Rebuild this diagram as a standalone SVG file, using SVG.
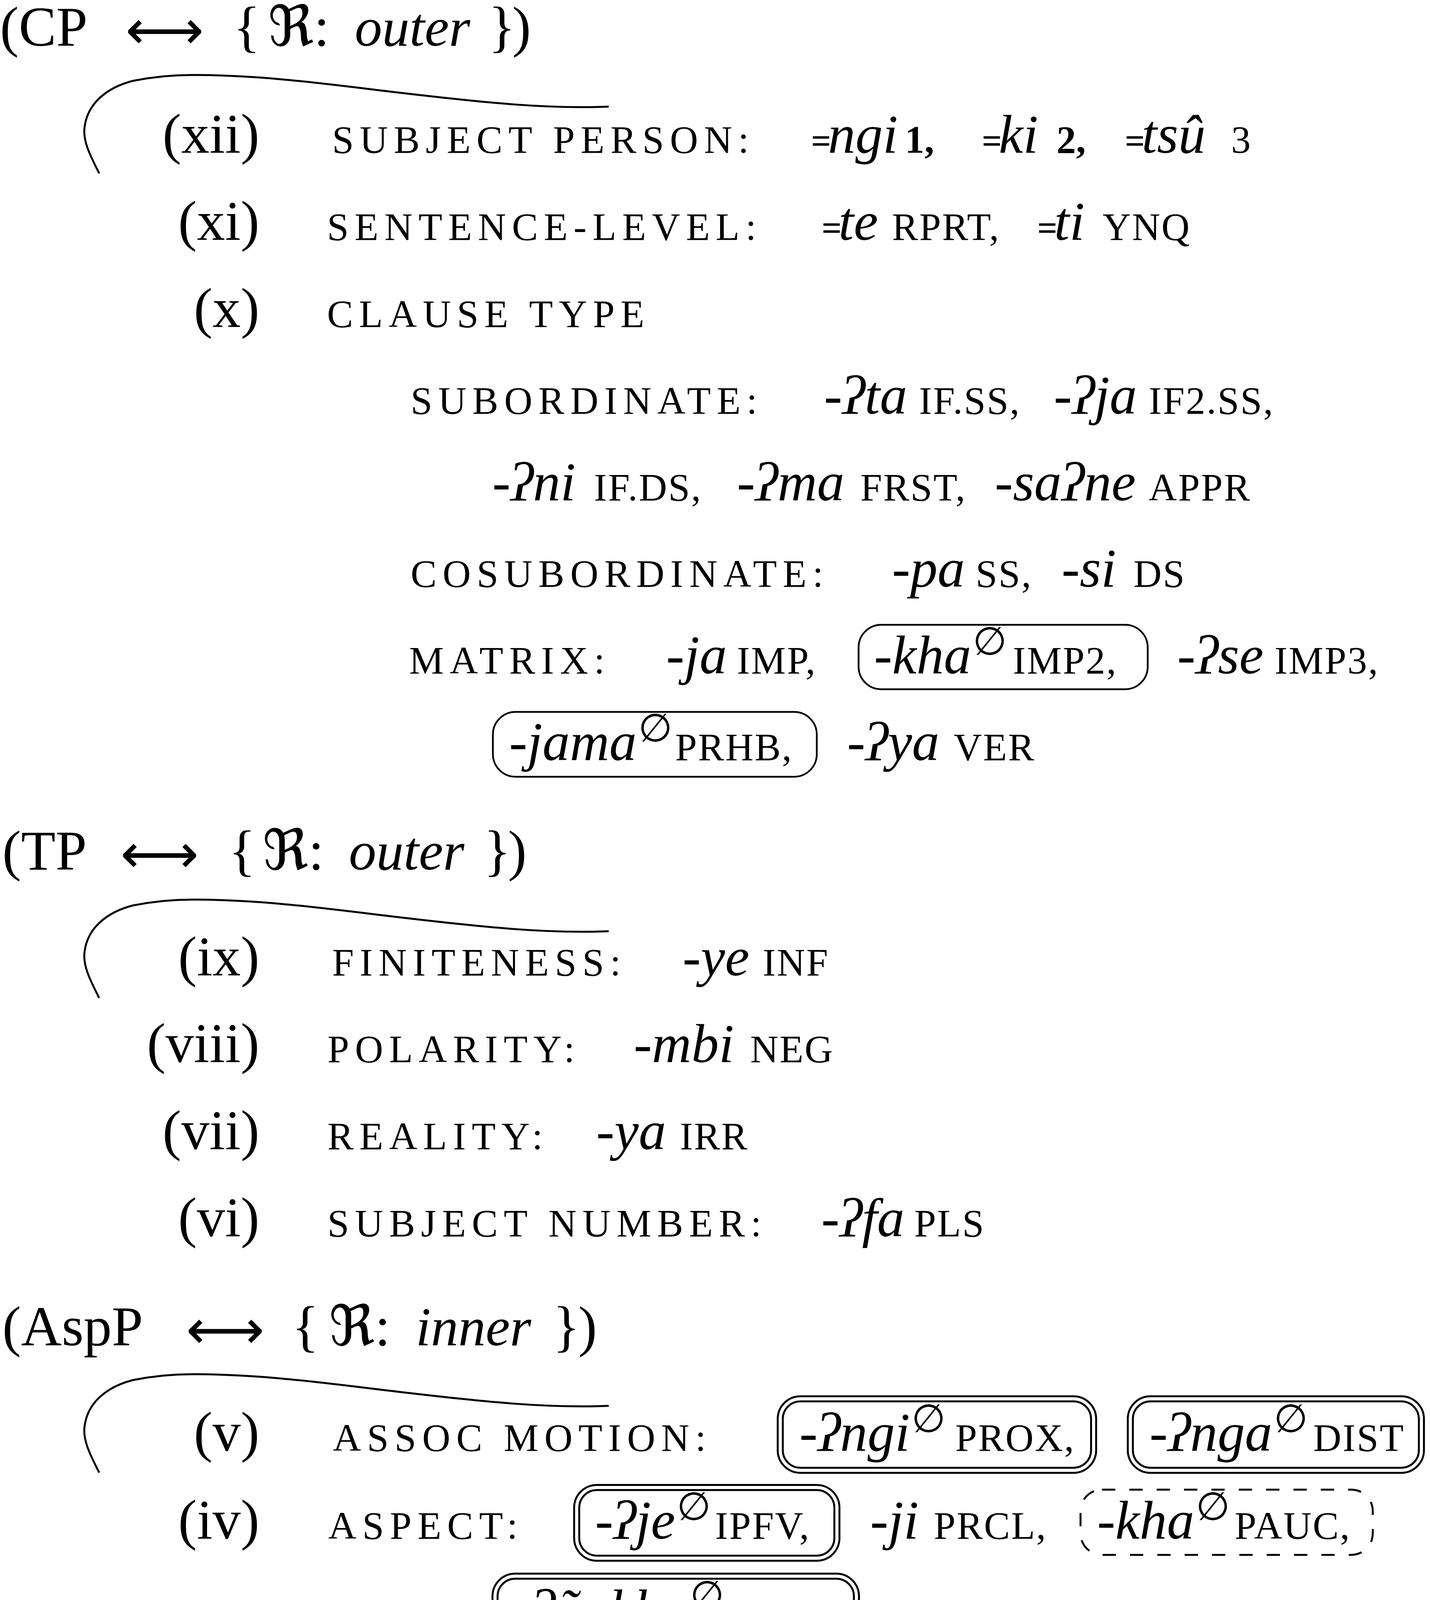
<svg xmlns="http://www.w3.org/2000/svg" xmlns:xlink="http://www.w3.org/1999/xlink" width="3660" height="5435" viewBox="0 0 3660 5435">
<style>
text{font-family:'Liberation Serif','DejaVu Serif',serif;font-size:144px;fill:#000}
.it{font-style:italic;font-size:140px}
.lb{font-size:100px;letter-spacing:15px}
.gl{font-size:100px;letter-spacing:3px;font-style:normal}
.dg{font-size:100px;font-weight:bold;font-style:normal}
.eq{font-size:90px;font-weight:bold;font-style:normal}
.sup{font-family:'DejaVu Sans','Noto Sans',sans-serif;font-size:100px;font-style:normal}
.sp{font-size:8px;font-style:normal}
.arr{font-family:'DejaVu Sans','Noto Sans',sans-serif;font-size:140px}
.frak{font-family:'DejaVu Serif','DejaVu Sans','Noto Sans',serif}
.num{text-anchor:end}
.brace{fill:none;stroke:#000;stroke-width:5;stroke-linecap:round}
.box{fill:none;stroke:#000;stroke-width:4.5}
.dbl{fill:none;stroke:#000;stroke-width:5}
.dash{fill:none;stroke:#000;stroke-width:5;stroke-dasharray:34 36}
</style>
<defs>
<path id="brace" d="M253,325 C230,280 210,240 217,205 C225,150 270,108 340,90 C390,80 440,75 490,75 C680,75 850,100 1020,120 C1250,147 1400,162 1556,156"/>
</defs>
<rect width="3660" height="5435" fill="#fff"/>

<g id="brackets">
<use xlink:href="#brace" class="brace" transform="translate(0,117)"/>
<use xlink:href="#brace" class="brace" transform="translate(0,2228)"/>
<use xlink:href="#brace" class="brace" transform="translate(0,3443)"/>
<use xlink:href="#brace" class="brace" transform="translate(0,4892)"/>
</g>

<g id="cp-header">
<text y="117"><tspan x="0">(CP </tspan><tspan x="321" dy="8" class="arr">⟷ </tspan><tspan x="597" dy="-8">{</tspan><tspan x="686" class="frak">ℜ</tspan><tspan>: </tspan><tspan x="908" class="it">outer </tspan><tspan x="1250">}</tspan><tspan x="1311">)</tspan></text>
</g>

<g id="row-xii">
<text class="num" x="664" y="391">(xii)</text>
<text y="391"><tspan x="850" class="lb">SUBJECT PERSON: </tspan><tspan x="2076" class="eq">=</tspan><tspan dx="-8" class="it">ngi</tspan><tspan class="sp"> </tspan><tspan x="2316" class="dg">1, </tspan><tspan x="2513" class="eq">=</tspan><tspan dx="-8" class="it">ki</tspan><tspan class="sp"> </tspan><tspan x="2704" class="dg">2, </tspan><tspan x="2879" class="eq">=</tspan><tspan dx="-8" class="it">tsû</tspan><tspan class="sp"> </tspan><tspan x="3151" class="gl">3</tspan></text>
</g>

<g id="row-xi">
<text class="num" x="664" y="614">(xi)</text>
<text y="614"><tspan x="837" class="lb">SENTENCE-LEVEL: </tspan><tspan x="2103" class="eq">=</tspan><tspan dx="-8" class="it">te</tspan><tspan class="sp"> </tspan><tspan x="2283" class="gl">RPRT, </tspan><tspan x="2655" class="eq">=</tspan><tspan dx="-8" class="it">ti</tspan><tspan class="sp"> </tspan><tspan x="2822" class="gl">YNQ</tspan></text>
</g>

<g id="row-x">
<text class="num" x="664" y="837">(x)</text>
<text y="837"><tspan x="837" class="lb">CLAUSE TYPE</tspan></text>
</g>

<g id="subordinate">
<text y="1059"><tspan x="1051" class="lb">SUBORDINATE: </tspan><tspan x="2109" class="it">-ʔta</tspan><tspan class="sp"> </tspan><tspan x="2352" class="gl">IF.SS, </tspan><tspan x="2697" class="it">-ʔja</tspan><tspan class="sp"> </tspan><tspan x="2940" class="gl">IF2.SS,</tspan></text>
<text y="1281"><tspan x="1260" class="it">-ʔni</tspan><tspan class="sp"> </tspan><tspan x="1520" class="gl">IF.DS, </tspan><tspan x="1886" class="it">-ʔma</tspan><tspan class="sp"> </tspan><tspan x="2202" class="gl">FRST, </tspan><tspan x="2546" class="it">-saʔne</tspan><tspan class="sp"> </tspan><tspan x="2940" class="gl">APPR</tspan></text>
</g>

<g id="cosubordinate">
<text y="1502"><tspan x="1051" class="lb">COSUBORDINATE: </tspan><tspan x="2283" class="it">-pa</tspan><tspan class="sp"> </tspan><tspan x="2497" class="gl">SS, </tspan><tspan x="2717" class="it">-si</tspan><tspan class="sp"> </tspan><tspan x="2901" class="gl">DS</tspan></text>
</g>

<g id="matrix">
<rect class="box" x="2197.5" y="1599.5" width="740" height="165" rx="58"/>
<rect class="box" x="1261.5" y="1822.5" width="829" height="166" rx="58"/>
<text y="1724"><tspan x="1047" class="lb">MATRIX: </tspan><tspan x="1705" class="it">-ja</tspan><tspan class="sp"> </tspan><tspan x="1886" class="gl">IMP, </tspan><tspan x="2237" class="it">-kha</tspan><tspan dx="4" y="1676" class="sup">∅</tspan><tspan class="sp"> </tspan><tspan x="2592" y="1724" class="gl">IMP2, </tspan><tspan x="3013" class="it">-ʔse</tspan><tspan class="sp"> </tspan><tspan x="3262" class="gl">IMP3,</tspan></text>
<text y="1946"><tspan x="1303" class="it">-jama</tspan><tspan dx="4" y="1898" class="sup">∅</tspan><tspan class="sp"> </tspan><tspan x="1728" y="1946" class="gl">PRHB, </tspan><tspan x="2168" class="it">-ʔya</tspan><tspan class="sp"> </tspan><tspan x="2441" class="gl">VER</tspan></text>
</g>

<g id="tp-header">
<text y="2226"><tspan x="6">(TP </tspan><tspan x="308" dy="8" class="arr">⟷ </tspan><tspan x="585" dy="-8">{</tspan><tspan x="672" class="frak">ℜ</tspan><tspan>: </tspan><tspan x="893" class="it">outer </tspan><tspan x="1238">}</tspan><tspan x="1300">)</tspan></text>
</g>

<g id="row-ix">
<text class="num" x="664" y="2497">(ix)</text>
<text y="2497"><tspan x="850" class="lb">FINITENESS: </tspan><tspan x="1747" class="it">-ye</tspan><tspan class="sp"> </tspan><tspan x="1952" class="gl">INF</tspan></text>
</g>
<g id="row-viii">
<text class="num" x="664" y="2719">(viii)</text>
<text y="2719"><tspan x="838" class="lb">POLARITY: </tspan><tspan x="1622" class="it">-mbi</tspan><tspan class="sp"> </tspan><tspan x="1920" class="gl">NEG</tspan></text>
</g>
<g id="row-vii">
<text class="num" x="664" y="2942">(vii)</text>
<text y="2942"><tspan x="838" class="lb">REALITY: </tspan><tspan x="1526" class="it">-ya</tspan><tspan class="sp"> </tspan><tspan x="1740" class="gl">IRR</tspan></text>
</g>
<g id="row-vi">
<text class="num" x="664" y="3165">(vi)</text>
<text y="3165"><tspan x="838" class="lb">SUBJECT NUMBER: </tspan><tspan x="2102" class="it">-ʔfa</tspan><tspan class="sp"> </tspan><tspan x="2340" class="gl">PLS</tspan></text>
</g>

<g id="aspp-header">
<text y="3444"><tspan x="6">(AspP </tspan><tspan x="476" dy="8" class="arr">⟷ </tspan><tspan x="747" dy="-8">{</tspan><tspan x="842" class="frak">ℜ</tspan><tspan>: </tspan><tspan x="1064" class="it">inner </tspan><tspan x="1415">}</tspan><tspan x="1480">)</tspan></text>
</g>

<g id="row-v">
<rect class="dbl" x="1990.5" y="3574.5" width="815" height="196" rx="58"/>
<rect class="dbl" x="2003.5" y="3587.5" width="789" height="170" rx="45"/>
<rect class="dbl" x="2886.5" y="3574.5" width="758" height="196" rx="58"/>
<rect class="dbl" x="2899.5" y="3587.5" width="732" height="170" rx="45"/>
<text class="num" x="664" y="3714">(v)</text>
<text y="3714"><tspan x="852" class="lb">ASSOC MOTION: </tspan><tspan x="2046" class="it">-ʔngi</tspan><tspan dx="4" y="3666" class="sup">∅</tspan><tspan class="sp"> </tspan><tspan x="2445" y="3714" class="gl">PROX, </tspan><tspan x="2942" class="it">-ʔnga</tspan><tspan dx="4" y="3666" class="sup">∅</tspan><tspan class="sp"> </tspan><tspan x="3361" y="3714" class="gl">DIST</tspan></text>
</g>

<g id="row-iv">
<rect class="dbl" x="1469.5" y="3801.5" width="679" height="194" rx="58"/>
<rect class="dbl" x="1482.5" y="3814.5" width="653" height="168" rx="45"/>
<rect class="dash" x="2765.5" y="3813.5" width="748" height="167" rx="55"/>
<rect class="dbl" x="1260.5" y="4028.5" width="938" height="193" rx="58"/>
<rect class="dbl" x="1273.5" y="4041.5" width="912" height="167" rx="45"/>
<text class="num" x="664" y="3939">(iv)</text>
<text y="3939"><tspan x="840" class="lb">ASPECT: </tspan><tspan x="1523" class="it">-ʔje</tspan><tspan dx="4" y="3891" class="sup">∅</tspan><tspan class="sp"> </tspan><tspan x="1830" y="3939" class="gl">IPFV, </tspan><tspan x="2227" class="it">-ji</tspan><tspan class="sp"> </tspan><tspan x="2390" class="gl">PRCL, </tspan><tspan x="2808" class="it">-kha</tspan><tspan dx="4" y="3891" class="sup">∅</tspan><tspan class="sp"> </tspan><tspan x="3160" y="3939" class="gl">PAUC,</tspan></text>
<text y="4166"><tspan x="1316" class="it">-ʔñakha</tspan><tspan dx="4" y="4118" class="sup">∅</tspan><tspan class="sp"> </tspan><tspan x="1863" y="4166" class="gl">SMFC</tspan></text>
</g>

<g id="row-iii">
<rect class="dash" x="1515.5" y="4266.5" width="607" height="166" rx="55"/>
<text class="num" x="664" y="4393">(iii)</text>
<text y="4393"><tspan x="840" class="lb">PASSIVE: </tspan><tspan x="1561" class="it">-ye</tspan><tspan dx="4" y="4345" class="sup">∅</tspan><tspan class="sp"> </tspan><tspan x="1839" y="4393" class="gl">PASS</tspan></text>
</g>

<g id="row-ii">
<rect class="dash" x="1802.5" y="4489.5" width="723" height="167" rx="55"/>
<text class="num" x="664" y="4615">(ii)</text>
<text y="4615"><tspan x="840" class="lb">RECIPROCAL: </tspan><tspan x="1842" class="it">-khu</tspan><tspan dx="4" y="4567" class="sup">∅</tspan><tspan class="sp"> </tspan><tspan x="2213" y="4615" class="gl">RCPR</tspan></text>
</g>

<g id="vp-header">
<text y="4887"><tspan x="58" class="it">v</tspan><tspan>P </tspan><tspan x="292" dy="8" class="arr">⟷ </tspan><tspan x="566" dy="-8">{</tspan><tspan x="659" class="frak">ℜ</tspan><tspan>: </tspan><tspan x="881" class="it">inner </tspan><tspan x="1231">}</tspan></text>
</g>

<g id="row-i">
<text class="num" x="664" y="5166">(i)</text>
<text y="5166"><tspan x="847" class="lb">CAUSATIVE: </tspan><tspan x="1720" class="it">-ña</tspan><tspan x="1905">/</tspan><tspan x="1975" class="it">-an</tspan><tspan x="2160">/</tspan><tspan x="2232" class="it">-en</tspan><tspan class="sp"> </tspan><tspan x="2457" class="gl">CAUS</tspan></text>
</g>

<g id="row-0">
<text class="num" x="664" y="5391">(0)</text>
<text y="5391"><tspan x="845" class="lb">VERBAL ROOT: </tspan><tspan x="1871">√</tspan></text>
</g>
</svg>
